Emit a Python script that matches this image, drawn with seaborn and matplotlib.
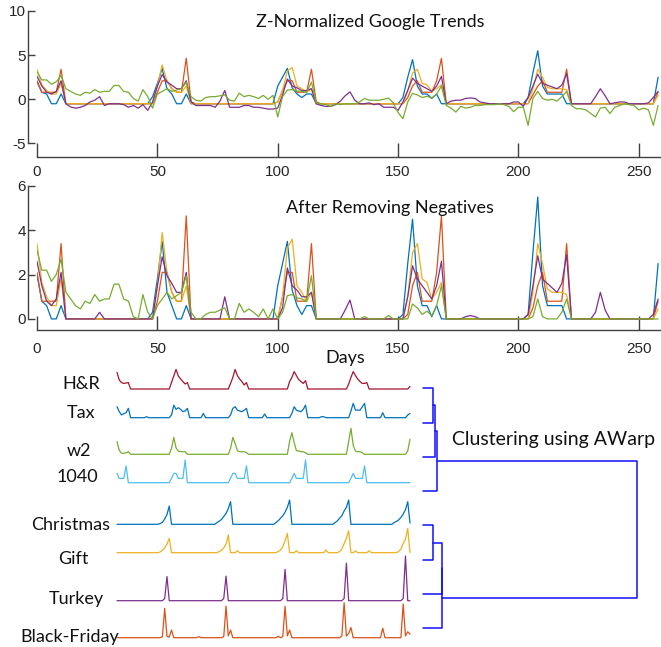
import matplotlib
matplotlib.use("Agg")
import matplotlib.pyplot as plt
import seaborn as sns
import numpy as np

# weekly samples (every second point), x axis labelled "Days" in the original
days = np.arange(0, 260, 2)

# z-normalized trends (10 values per row = 20 days)
blue_z = [2.0, 0.8, 0.6, -0.5, -0.5, 0.6, -0.5, -0.5, -0.5, -0.5,
          -0.5, -0.5, -0.5, -0.5, -0.5, -0.5, -0.5, -0.5, -0.5, -0.5,
          -0.5, -0.5, -0.5, -0.5, 0.3, 1.8, 3.5, 1.2, 0.6, -0.5,
          -0.5, 0.6, -0.5, -0.5, -0.5, -0.5, -0.5, -0.5, -0.5, -0.5,
          -0.5, -0.5, -0.5, -0.5, -0.5, -0.5, -0.5, -0.5, -0.5, -0.5,
          1.5, 2.5, 3.5, 1.3, 0.6, 0.2, 0.6, 0.6, -0.5, -0.5,
          -0.5, -0.5, -0.5, -0.5, -0.5, -0.5, -0.5, -0.5, -0.5, -0.5,
          -0.5, -0.5, -0.5, -0.5, -0.5, -0.5, 0.2, 2.5, 4.5, 1.5,
          0.6, 0.6, 0.1, 0.6, -0.5, -0.5, -0.5, -0.5, -0.5, -0.5,
          -0.5, -0.5, -0.5, -0.5, -0.5, -0.5, -0.5, -0.5, -0.5, -0.5,
          -0.5, -0.5, 0.2, 3.0, 5.5, 1.5, 0.6, 0.6, 0.6, 0.6,
          -0.5, -0.5, -0.5, -0.5, -0.5, -0.5, -0.5, -0.5, -0.5, -0.5,
          -0.5, -0.5, -0.5, -0.5, -0.5, -0.5, -0.5, -0.5, -0.5, 2.5]
orange_z = [2.1, 0.8, 0.8, 0.8, 0.8, 3.4, -0.5, -0.5, -0.5, -0.5,
            -0.5, -0.5, -0.5, -0.5, -0.5, -0.5, -0.5, -0.5, -0.5, -0.5,
            -0.5, -0.5, -0.5, -0.5, -0.5, 0.8, 2.1, 2.1, 1.2, 0.8,
            0.8, 4.65, -0.3, -0.5, -0.5, -0.5, -0.5, -0.5, -0.5, -0.5,
            -0.5, -0.5, -0.5, -0.5, -0.5, -0.5, -0.5, -0.5, -0.5, -0.5,
            -0.3, 1.0, 2.1, 2.1, 0.8, 0.8, 0.8, 3.4, -0.3, -0.5,
            -0.5, -0.5, -0.5, -0.5, -0.5, -0.5, -0.5, -0.5, -0.5, -0.5,
            -0.5, -0.5, -0.5, -0.5, -0.5, -0.5, -0.5, 0.2, 1.5, 2.1,
            0.8, 0.8, 0.8, 2.1, 4.65, -0.5, -0.5, -0.5, -0.5, -0.5,
            -0.5, -0.5, -0.5, -0.5, -0.5, -0.5, -0.5, -0.5, -0.5, -0.5,
            -0.5, -0.5, -0.5, 0.5, 1.5, 2.1, 0.8, 0.8, 0.8, 0.8,
            3.4, -0.5, -0.5, -0.5, -0.5, -0.5, -0.5, -0.5, -0.5, -0.5,
            -0.5, -0.5, -0.5, -0.5, -0.5, -0.5, -0.5, -0.5, -0.5, 0.8]
yellow_z = [3.4, 1.65, 1.0, 0.6, 0.6, 1.8, -0.5, -0.5, -0.5, -0.5,
            -0.5, -0.5, -0.5, -0.5, -0.5, -0.5, -0.5, -0.5, -0.5, -0.5,
            -0.5, -0.5, -0.5, -0.5, -0.5, 1.5, 3.9, 2.1, 1.2, 0.8,
            0.8, 1.5, -0.5, -0.5, -0.5, -0.5, -0.5, -0.5, -0.5, -0.5,
            -0.5, -0.5, -0.5, -0.5, -0.5, -0.5, -0.5, -0.5, -0.5, -0.5,
            -0.3, 1.0, 3.2, 3.6, 1.5, 1.2, 0.8, 1.2, -0.5, -0.5,
            -0.5, -0.5, -0.5, -0.5, -0.5, -0.5, -0.5, -0.5, -0.5, -0.5,
            -0.5, -0.5, -0.5, -0.5, -0.5, -0.5, -0.5, 1.0, 3.0, 3.4,
            1.8, 1.65, 0.9, 1.2, 1.65, -0.5, -0.5, -0.5, -0.5, -0.5,
            -0.5, -0.5, -0.5, -0.5, -0.5, -0.5, -0.5, -0.5, -0.5, -0.5,
            -0.5, -0.5, -0.5, 1.2, 3.4, 2.5, 1.35, 1.2, 1.2, 1.2,
            1.1, -0.5, -0.5, -0.5, -0.5, -0.5, -0.5, -0.5, -0.5, -0.5,
            -0.5, -0.5, -0.5, -0.5, -0.5, -0.5, -0.5, -0.5, -0.5, 0.45]
purple_z = [2.6, 1.5, 0.8, 0.6, 0.9, 2.1, -0.5, -0.87, -1.0, -0.9,
            -0.7, -0.3, -0.1, 0.3, -0.7, -0.5, -0.5, -0.5, -0.6, -0.9,
            -0.7, -1.0, -0.6, -1.25, -0.3, 1.5, 2.8, 1.95, 1.6, 1.2,
            1.2, 2.1, -0.3, -0.7, -0.7, -0.7, -0.7, -0.9, -0.2, 1.0,
            -0.9, -0.9, -0.9, -0.7, -0.7, -0.9, -0.9, -1.0, -1.1, -1.1,
            -1.0, 0.5, 2.3, 1.5, 1.3, 1.0, 1.0, 1.2, -0.5, -0.7,
            -0.8, -0.8, -0.6, -0.2, 0.4, 0.85, -0.1, -0.5, -0.5, -0.4,
            -0.6, -0.5, -0.9, -0.9, -0.9, -1.25, -0.3, 1.0, 2.4, 1.8,
            1.5, 1.2, 0.9, 1.5, 2.6, -0.5, -0.2, -0.1, -0.1, 0.1,
            0.15, 0.1, -0.3, -0.4, -0.5, -0.5, -0.5, -0.5, -0.5, -0.3,
            -0.3, -0.8, 0.2, 1.5, 2.85, 1.8, 1.6, 1.4, 1.2, 1.6,
            2.9, -0.5, -0.5, -0.5, -0.5, -0.5, 0.3, 1.2, 0.4, -0.5,
            -0.4, -0.3, -0.3, -0.5, -0.5, -0.5, -0.5, -0.4, 0.2, 0.9]
green_z = [3.1, 2.2, 2.2, 1.7, 2.0, 2.7, 1.2, 0.9, 0.6, 0.45,
           0.8, 0.7, 1.1, 0.8, 0.9, 0.9, 1.57, 1.57, 0.9, 0.8,
           0.1, -0.2, 1.1, 0.3, -1.0, 0.6, 0.9, 1.2, 0.9, 1.05,
           1.2, 1.95, 0.3, -0.1, -0.2, 0.2, 0.3, 0.3, 0.4, 0.5,
           -0.1, -0.2, 0.7, 0.3, 0.45, 0.3, 0.1, 0.45, 0.0, 0.45,
           -2.0, 0.3, 1.05, 1.1, 0.95, 0.9, 0.8, 1.95, -0.4, -0.5,
           -0.6, -0.8, -0.5, -0.6, -0.5, -0.5, -0.5, -0.3, 0.1, -0.1,
           -0.1, -0.1, 0.0, 0.15, -0.4, -1.5, -2.2, -0.3, 0.67, 0.5,
           0.2, 0.35, 0.15, 0.6, 1.5, -0.7, -1.0, -1.45, -0.8, -1.0,
           -0.9, -0.7, -0.7, -0.6, -0.6, -0.6, -0.5, -0.6, -0.8, -1.4,
           -0.9, -0.9, -2.95, 0.1, 0.9, 0.1, -0.1, 0.0, -0.2, 0.3,
           0.9, -0.7, -1.06, -1.06, -1.2, -1.6, -2.0, -1.0, -0.9, -1.6,
           -0.9, -0.7, -0.5, -0.6, -0.7, -1.2, -1.0, -1.2, -2.95, -0.7]

# keyword traces next to the dendrogram (0-10 relative scale per row)
kw_names = ["H&R", "Tax", "w2", "1040", "Christmas", "Gift", "Turkey", "Black-Friday"]
hr = [8.3, 4.5, 3.2, 2.8, 3.0, 3.2, 0, 0, 0, 0,
      0, 0, 0, 0, 0, 0, 0, 0, 0, 0,
      0, 0, 0, 0, 3.3, 6.5, 9.8, 6.5, 5.0, 3.7,
      2.5, 3.2, 0, 0, 0, 0, 0, 0, 0, 0,
      0, 0, 0, 0, 0, 0, 0, 0, 0, 0,
      2.8, 5.8, 9.8, 6.7, 5.0, 3.7, 2.0, 3.2, 0, 0,
      0, 0, 0, 0, 0, 0, 0, 0, 0, 0,
      0, 0, 0, 0, 0, 0, 3.7, 5.8, 8.7, 6.7,
      4.7, 3.7, 2.8, 4.2, 0, 0, 0, 0, 0, 0,
      0, 0, 0, 0, 0, 0, 0, 0, 0, 0,
      0, 0, 2.5, 5.8, 8.7, 6.7, 5.0, 3.7, 2.8, 2.8,
      3.2, 0, 0, 0, 0, 0, 0, 0, 0, 0,
      0, 0, 0, 0, 0, 0, 0, 0, 0, 1.3]
tax = [7.7, 4.2, 1.9, 2.8, 3.5, 6.5, 0, 0, 0, 0,
       0, 0, 0, 0.7, 0, 0, 0, 0, 0, 0,
       0, 0, 0, 0, 1.9, 8.8, 5.8, 7.0, 5.8, 4.2,
       4.7, 6.5, 0, 0, 0, 0, 0, 0, 3.0, 0,
       0, 0, 0, 0, 0, 0, 0, 0, 0, 0,
       1.9, 6.5, 7.7, 5.3, 4.7, 4.2, 5.3, 6.5, 0, 0,
       0, 0, 0, 0, 0, 2.6, 0, 0, 0, 0,
       0, 0, 0, 0, 0, 0, 0, 3.0, 7.7, 5.3,
       4.7, 4.2, 5.8, 8.8, 0, 0, 0, 0, 0, 0,
       0.7, 0.7, 0, 0, 0, 0, 0, 0, 0, 0,
       0, 0, 0, 4.7, 10, 5.3, 5.3, 5.3, 7.7, 10,
       0, 0, 0, 0, 0, 0, 0, 3.5, 0, 0,
       0, 0, 0, 0, 0, 0, 0, 0, 1.9, 3.0]
w2 = [4.9, 1.5, 0.4, 0.4, 0.6, 1.0, 0, 0, 0, 0,
      0, 0, 0, 0, 0, 0, 0, 0, 0, 0,
      0, 0, 0, 0, 2.3, 6.5, 2.5, 1.2, 1.0, 1.0,
      1.0, 0, 0, 0, 0, 0, 0, 0, 0, 0,
      0, 0, 0, 0, 0, 0, 0, 0, 0, 0,
      2.3, 6.5, 4.2, 1.4, 1.0, 1.0, 1.0, 0.6, 0, 0,
      0, 0, 0, 0, 0, 0, 0, 0, 0, 0,
      0, 0, 0, 0, 0, 0, 5.0, 8.3, 4.5, 1.4,
      1.3, 1.0, 1.0, 0.6, 0, 0, 0, 0, 0, 0,
      0, 0, 0, 0, 0, 0, 0, 0, 0, 0,
      0, 0, 5.0, 10, 3.5, 1.2, 1.0, 1.0, 0.6, 0,
      0, 0, 0, 0, 0, 0, 0, 0, 0, 0,
      0, 0, 0, 0, 0, 0, 0, 0, 1.3, 5.8]
f1040 = [4.1, 1.9, 1.9, 1.9, 7.4, 0, 0, 0, 0, 0,
         0, 0, 0, 0, 0, 0, 0, 0, 0, 0,
         0, 0, 0, 0, 1.9, 4.1, 4.1, 1.9, 1.9, 1.9,
         10, 0, 0, 0, 0, 0, 0, 0, 0, 0,
         0, 0, 0, 0, 0, 0, 0, 0, 0, 0,
         1.9, 4.1, 4.1, 1.9, 1.9, 1.9, 1.9, 7.4, 0, 0,
         0, 0, 0, 0, 0, 0, 0, 0, 0, 0,
         0, 0, 0, 0, 0, 0, 0, 1.9, 4.1, 1.9,
         1.9, 1.9, 1.9, 10, 0, 0, 0, 0, 0, 0,
         0, 0, 0, 0, 0, 0, 0, 0, 0, 0,
         0, 0, 0, 1.9, 4.1, 1.9, 1.9, 1.9, 1.9, 7.4,
         0, 0, 0, 0, 0, 0, 0, 0, 0, 0,
         0, 0, 0, 0, 0, 0, 0, 0, 0, 0]
christmas = [0, 0, 0, 0, 0, 0, 0, 0, 0, 0,
             0, 0, 0, 0, 0, 0, 0, 0, 0, 0.3,
             0.8, 2.2, 4.0, 7.5, 0, 0, 0, 0, 0, 0,
             0, 0, 0, 0, 0, 0, 0, 0, 0, 0,
             0, 0, 0, 0, 0.7, 1.3, 2.0, 3.2, 4.5, 6.5,
             9.3, 0, 0, 0, 0, 0, 0, 0, 0, 0,
             0, 0, 0, 0, 0, 0, 0, 0, 0, 0,
             0.7, 1.5, 2.5, 3.5, 5.0, 7.0, 10, 0, 0, 0,
             0, 0, 0, 0, 0, 0, 0, 0, 0, 0,
             0, 0, 0, 0, 0, 0, 0.7, 1.4, 2.5, 3.5,
             5.5, 7.0, 10, 0, 0, 0, 0, 0, 0, 0,
             0, 0, 0, 0, 0, 0, 0, 0, 0, 0,
             0, 0, 0.7, 1.2, 1.8, 2.8, 4.2, 6.0, 9.3, 0.5]
gift = [0, 0, 0, 0, 0, 0, 0, 0, 0, 0,
        0, 0, 0, 0, 0, 0, 0, 0, 0, 0.3,
        1.0, 2.0, 3.5, 5.9, 0, 0, 0, 0, 0, 0,
        0, 0, 0, 0, 0, 0, 0, 0, 0, 0,
        0, 0, 0, 0, 0, 0.5, 1.0, 2.0, 3.4, 7.3,
        0, 0, 0, 0.8, 0, 0, 0, 0, 0, 0,
        0, 0, 0, 0, 0, 0, 0, 0, 0, 0,
        0, 0.5, 1.0, 2.5, 5.0, 7.9, 0, 0, 0, 0.8,
        0, 0, 0, 0, 0, 0, 0, 0, 0, 0,
        0, 0, 1.1, 0, 0, 0, 0, 0, 0.5, 1.5,
        3.8, 6.0, 9.0, 0, 0, 0.8, 0, 0, 0, 0,
        0, 0.8, 0, 0, 0, 0, 0, 0, 0, 0,
        0, 0, 0, 0, 0.5, 1.5, 3.8, 5.5, 10, 0]
turkey = [0, 0, 0, 0, 0, 0, 0, 0, 0, 0,
          0, 0, 0, 0, 0, 0, 0, 0, 0, 0,
          0, 0.5, 5.4, 0, 0, 0, 0, 0, 0, 0,
          0, 0, 0, 0, 0, 0, 0, 0, 0, 0,
          0, 0, 0, 0, 0, 0, 0, 0.5, 5.5, 0,
          0, 0, 0, 0, 0, 0, 0, 0, 0, 0,
          0, 0, 0, 0, 0, 0, 0, 0, 0, 0,
          0, 0, 0, 0.5, 7.0, 0, 0, 0, 0, 0,
          0, 0, 0, 0, 0, 0, 0, 0, 0, 0,
          0, 0, 0, 0, 0, 0, 0, 0, 0, 0,
          0.5, 8.4, 0, 0, 0, 0, 0, 0, 0, 0,
          0, 0, 0, 0, 0, 0, 0, 0, 0, 0,
          0, 0, 0, 0, 0, 0, 0.5, 10, 0, 0]
black_friday = [0, 0, 0, 0, 0, 0, 0, 0, 0, 0,
                0, 0, 0, 0, 0, 0, 0, 0, 0, 0,
                0.3, 8.4, 0.4, 0.2, 2.2, 0, 0, 0, 0, 0,
                0, 0, 0, 0, 0, 0, 0.3, 0, 0, 0,
                0, 0, 0, 0, 0, 0, 0, 0.3, 9.0, 0.5,
                2.2, 0, 0, 0, 0, 0, 0, 0, 0, 0,
                0, 0, 0, 0, 0, 0, 0, 0, 0, 0,
                0, 0.4, 0, 0.3, 9.0, 0.5, 2.2, 0, 0, 0,
                0, 0, 0, 0, 0, 0, 0, 0, 0, 0,
                0, 0, 0, 0, 0, 0, 0, 0, 0, 0.5,
                10, 0.5, 1.2, 2.9, 0, 0, 0, 0, 0, 0,
                0, 0, 0, 0, 0, 0, 0, 2.7, 0, 0,
                0, 0, 0, 0, 0, 0, 9.6, 0.5, 1.7, 1.0]

# dendrogram merges (leaf order as listed above), heights relative to root
link_left = [0, 8, 9, 4, 11, 12, 10]
link_right = [1, 2, 3, 5, 6, 7, 13]
link_height = [0.047, 0.055, 0.065, 0.047, 0.086, 0.089, 1.0]

series_colors = ["#0072BD", "#D95319", "#EDB120", "#7E2F8E", "#77AC30"]
kw_colors = ["#A2142F", "#0072BD", "#77AC30", "#4DBEEE",
             "#0072BD", "#EDB120", "#7E2F8E", "#D95319"]

sns.set_theme(style="ticks")
plt.rcParams["font.family"] = ["Liberation Sans", "DejaVu Sans"]
plt.rcParams["axes.unicode_minus"] = False
title_font = "Lato"

W, H = 661, 647
fig = plt.figure(figsize=(W / 100, H / 100), dpi=100)


def px_axes(left, top, right, bottom):
    return fig.add_axes([left / W, 1 - bottom / H, (right - left) / W, (bottom - top) / H])


def style_ts(ax, ylim, yticks, xpad):
    ax.set_xlim(0, 259.2)
    ax.set_ylim(*ylim)
    ax.set_xticks([0, 50, 100, 150, 200, 250])
    ax.set_yticks(yticks)
    sns.despine(ax=ax, offset={"left": 6.5})
    ax.spines["left"].set_bounds(yticks[0], yticks[-1])
    for s in ["left", "bottom"]:
        ax.spines[s].set_color("#404040")
        ax.spines[s].set_linewidth(1.0)
    ax.tick_params(axis="x", direction="in", length=10, width=1, color="#404040",
                   pad=xpad, labelsize=11, labelcolor="#262626")
    ax.tick_params(axis="y", direction="in", length=5, width=1, color="#404040",
                   pad=1.5, labelsize=11, labelcolor="#262626")
    ax.set_xlabel("")
    ax.set_ylabel("")


series = [blue_z, orange_z, yellow_z, purple_z, green_z]

ax1 = px_axes(37, 11, 661, 157)
for vals, c in zip(series, series_colors):
    sns.lineplot(x=days, y=vals, ax=ax1, color=c, linewidth=0.9)
style_ts(ax1, (-6.53, 10), [-5, 0, 5, 10], 6)

ax2 = px_axes(37, 186, 661, 330)
for vals, c in zip(series, series_colors):
    sns.lineplot(x=days, y=np.clip(vals, 0, None), ax=ax2, color=c, linewidth=0.9)
style_ts(ax2, (-0.5, 6.0), [0, 2, 4, 6], 9)

fig.text(370 / W, 1 - 22 / H, "Z-Normalized Google Trends", ha="center", va="center",
         fontsize=13, family=title_font, color="#111111")
fig.text(390 / W, 1 - 208 / H, "After Removing Negatives", ha="center", va="center",
         fontsize=13, family=title_font, color="#111111")
fig.text(345 / W, 1 - 358 / H, "Days", ha="center", va="center",
         fontsize=13, family=title_font, color="#111111")

# keyword rows: baseline y (px), height of value 10 (px), label centre (px)
row_base = [389, 417.7, 454.3, 482.7, 524.3, 552.7, 600.7, 637.7]
row_amp = [20, 14.3, 26, 22.7, 24.3, 24.3, 44.7, 35]
label_xy = [(81, 384), (81, 413), (79, 451), (77, 477),
            (71, 525), (73, 559), (76, 599), (70, 637)]
kw_series = [hr, tax, w2, f1040, christmas, gift, turkey, black_friday]

for name, vals, c, base, amp, (lx, ly) in zip(kw_names, kw_series, kw_colors,
                                              row_base, row_amp, label_xy):
    ax = px_axes(117, base - amp, 410, base)
    sns.lineplot(x=days, y=vals, ax=ax, color=c, linewidth=0.9)
    ax.set_xlim(0, 258)
    ax.set_ylim(0, 10)
    ax.axis("off")
    for ln in ax.lines:
        ln.set_clip_on(False)
    fig.text(lx / W, 1 - ly / H, name, ha="center", va="center",
             fontsize=13, family=title_font, color="#111111")

# dendrogram
axd = px_axes(423.3, 388.3, 637.3, 628.3)
axd.set_xlim(0, 1)
axd.set_ylim(7, 0)
axd.axis("off")
pos = {i: (float(i), 0.0) for i in range(len(kw_names))}
for k, (a, b, h) in enumerate(zip(link_left, link_right, link_height)):
    ya, ha = pos[a]
    yb, hb = pos[b]
    axd.plot([ha, h, h, hb], [ya, ya, yb, yb], color="#1010ff", lw=1.1, clip_on=False)
    pos[len(kw_names) + k] = ((ya + yb) / 2, h)

fig.text(554 / W, 1 - 440 / H, "Clustering using AWarp", ha="center", va="center",
         fontsize=14, family=title_font, color="#111111")

fig.savefig("out.png", dpi=100)
